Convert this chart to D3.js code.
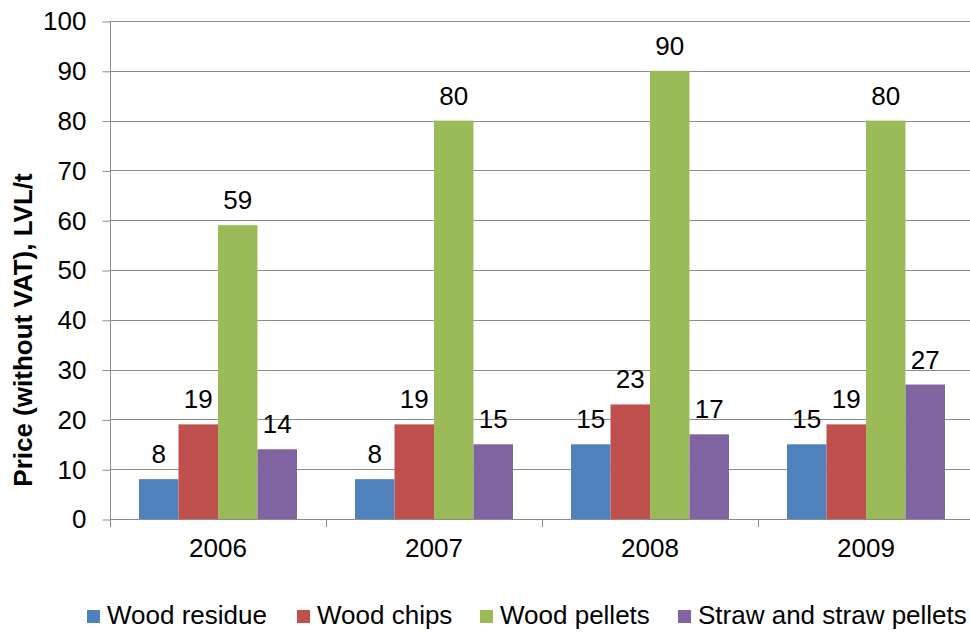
<!DOCTYPE html>
<html>
<head>
<meta charset="utf-8">
<script src="https://cdn.jsdelivr.net/npm/d3@7"></script>
<style>
  html, body { margin: 0; padding: 0; background: #fff; }
  svg { display: block; font-family: "Liberation Sans", Arial, sans-serif; }
</style>
</head>
<body>
<svg id="chart" width="970" height="633"></svg>
<script>
// Biofuel prices by year (LVL/t, without VAT)
const years = ["2006", "2007", "2008", "2009"];
const seriesNames = ["Wood residue", "Wood chips", "Wood pellets", "Straw and straw pellets"];
const woodResidue = [8, 8, 15, 15];
const woodChips = [19, 19, 23, 19];
const woodPellets = [59, 80, 90, 80];
const strawPellets = [14, 15, 17, 27];
const yTicks = [0, 10, 20, 30, 40, 50, 60, 70, 80, 90, 100];
const colors = ["#4F81BD", "#C0504D", "#9BBB59", "#8064A2"];

const seriesValues = [woodResidue, woodChips, woodPellets, strawPellets];

const svg = d3.select("#chart");
const plotLeft = 110, plotRight = 974, plotTop = 21, plotBottom = 519;
const axisColor = "#8c8c8c";
const fontSize = 26;

const x = d3.scaleBand().domain(years).range([plotLeft, plotRight]).paddingInner(0).paddingOuter(0);
const inner = d3.scaleBand().domain(seriesNames).range([29, x.bandwidth() - 29]).padding(0);
const y = d3.scaleLinear().domain([0, 100]).range([plotBottom, plotTop]);

// horizontal gridlines
svg.append("g")
  .selectAll("line")
  .data(yTicks.filter(d => d > 0))
  .join("line")
  .attr("x1", plotLeft).attr("x2", plotRight)
  .attr("y1", d => Math.round(y(d)) + 0.5).attr("y2", d => Math.round(y(d)) + 0.5)
  .attr("stroke", axisColor).attr("stroke-width", 1);

// y axis
const yAxis = svg.append("g")
  .attr("transform", `translate(${plotLeft + 0.5},0.5)`)
  .call(d3.axisLeft(y).tickValues(yTicks).tickSize(8).tickPadding(16).tickFormat(d3.format("d")));
yAxis.select(".domain").attr("stroke", axisColor).attr("d", `M0,${plotTop}V${plotBottom}`);
yAxis.selectAll(".tick line").attr("stroke", axisColor);
yAxis.selectAll(".tick text").attr("font-size", fontSize).attr("fill", "#000")
  .attr("font-family", "Liberation Sans, Arial, sans-serif");

// x axis
const xAxis = svg.append("g")
  .attr("transform", `translate(0,${plotBottom + 0.5})`)
  .call(d3.axisBottom(x).tickSize(0).tickPadding(19));
xAxis.select(".domain").attr("stroke", axisColor).attr("d", `M${plotLeft},0H${plotRight}`);
xAxis.selectAll(".tick text").attr("font-size", fontSize).attr("fill", "#000")
  .attr("font-family", "Liberation Sans, Arial, sans-serif");

// category boundary ticks
const boundaries = d3.range(years.length + 1).map(i => plotLeft + i * x.bandwidth());
svg.append("g")
  .selectAll("line")
  .data(boundaries)
  .join("line")
  .attr("x1", d => Math.round(d) + 0.5)
  .attr("x2", d => Math.round(d) + 0.5)
  .attr("y1", plotBottom).attr("y2", plotBottom + 8)
  .attr("stroke", axisColor);

// bars and value labels
const groups = svg.append("g")
  .selectAll("g")
  .data(years)
  .join("g")
  .attr("transform", d => `translate(${x(d)},0)`);

groups.each(function (year, yi) {
  const g = d3.select(this);
  const rows = seriesNames.map((name, si) => ({ name, value: seriesValues[si][yi], color: colors[si] }));
  g.selectAll("rect")
    .data(rows)
    .join("rect")
    .attr("x", d => inner(d.name))
    .attr("width", inner.bandwidth())
    .attr("y", d => y(d.value))
    .attr("height", d => y(0) - y(d.value))
    .attr("fill", d => d.color);
  g.selectAll("text")
    .data(rows)
    .join("text")
    .attr("x", d => inner(d.name) + inner.bandwidth() / 2)
    .attr("y", d => y(d.value) - 16)
    .attr("text-anchor", "middle")
    .attr("font-size", fontSize)
    .attr("fill", "#000")
    .text(d => d.value);
});

// y axis title
svg.append("text")
  .attr("transform", "translate(32,330) rotate(-90)")
  .attr("text-anchor", "middle")
  .attr("font-size", fontSize)
  .attr("font-weight", "bold")
  .attr("fill", "#000")
  .text("Price (without VAT), LVL/t");

// legend
const legendX = [87, 297, 480, 678];
const legend = svg.append("g")
  .selectAll("g")
  .data(seriesNames)
  .join("g")
  .attr("transform", (d, i) => `translate(${legendX[i]},610)`);
legend.append("rect")
  .attr("width", 13).attr("height", 13)
  .attr("fill", (d, i) => colors[i]);
legend.append("text")
  .attr("x", 20).attr("y", 14)
  .attr("font-size", fontSize)
  .attr("fill", "#000")
  .text(d => d);
</script>
</body>
</html>
